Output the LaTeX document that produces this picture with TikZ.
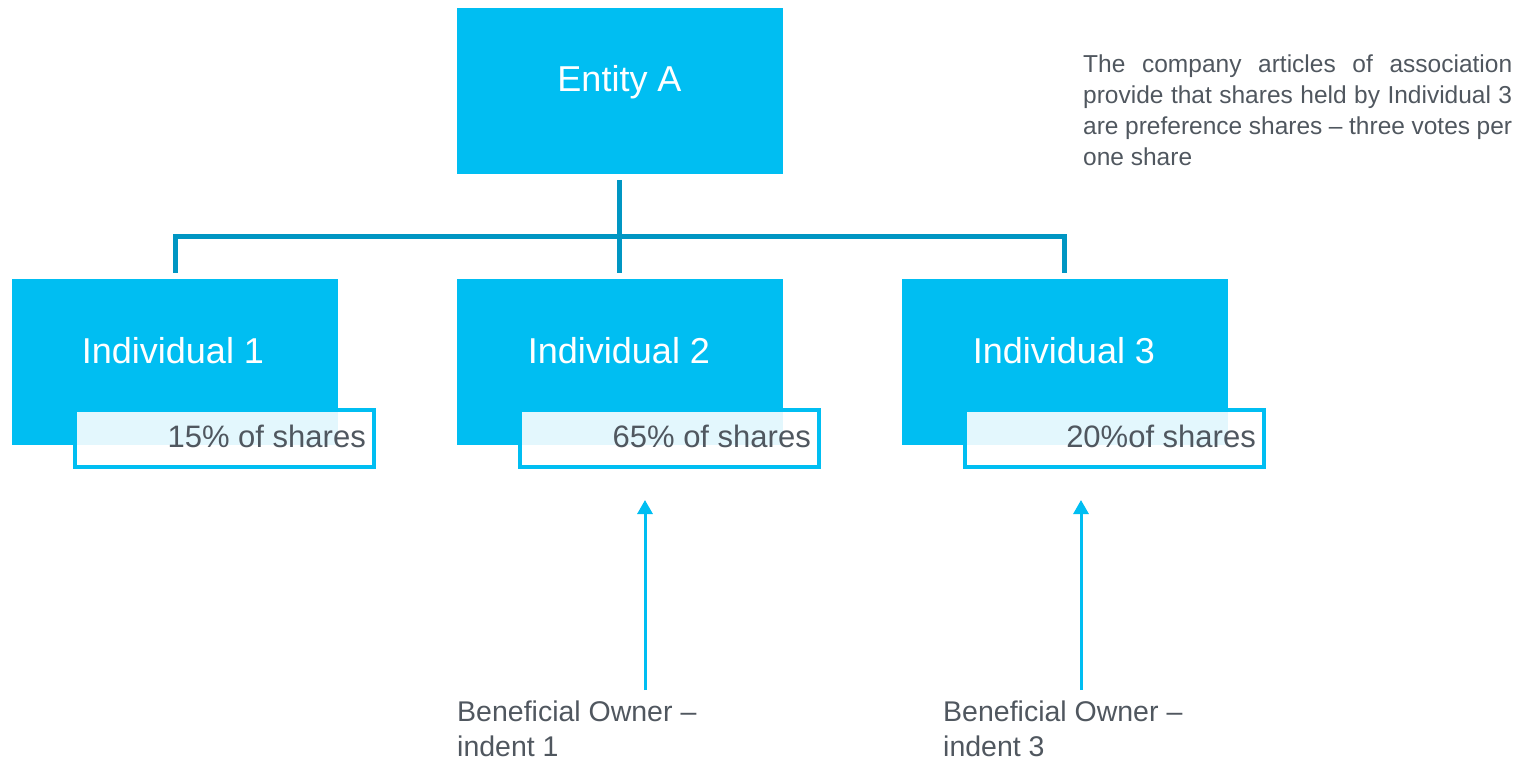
\documentclass[tikz,border=0pt]{standalone}
\usepackage{fontspec}
\setmainfont{Liberation Sans}
\usetikzlibrary{arrows.meta}

\definecolor{boxblue}{HTML}{00BEF2}
\definecolor{treeblue}{HTML}{0096C3}
\definecolor{textgray}{HTML}{50575F}

\tikzset{
    bluebox/.style={fill=boxblue, draw=none, minimum width=326pt, minimum height=166pt, inner sep=0pt},
    sharebox/.style={draw=boxblue, line width=4pt, fill=white, fill opacity=0.89, minimum width=299pt, minimum height=57pt, inner sep=0pt},
    boxtext/.style={text=white, font=\fontsize{36}{40}\selectfont, inner sep=0pt},
    sharetext/.style={text=textgray, font=\fontsize{31}{36}\selectfont, inner sep=0pt},
    tree/.style={draw=treeblue, line width=5pt},
    arr/.style={draw=boxblue, line width=3pt, -{Triangle[width=15pt,length=14pt]}},
    note/.style={text=textgray, inner sep=0pt}
}

\begin{document}
\begin{tikzpicture}[x=1pt, y=-1pt]
        \useasboundingbox (0,0) rectangle (1529,765);

        \node[bluebox] (entity) at (619.5,91) {};
        \node[boxtext, anchor=base] (entitytext) at (619.5,92) {Entity A};

        \node[bluebox] (ind1) at (175,362) {};
        \node[bluebox] (ind2) at (619.5,362) {};
        \node[bluebox] (ind3) at (1064.5,362) {};
        \node[boxtext, anchor=base] (ind1text) at (173,363) {Individual 1};
        \node[boxtext, anchor=base] (ind2text) at (619,363) {Individual 2};
        \node[boxtext, anchor=base] (ind3text) at (1064,363) {Individual 3};

        \draw[tree] ([yshift=-6pt]entity.south) -- ([yshift=6pt]ind2.north);
        \draw[tree] ([yshift=6pt]ind1.north) -- ++(0,-36) -| ([yshift=6pt]ind3.north);

        \node[sharebox] (share1) at (224.5,438.5) {};
        \node[sharebox] (share2) at (669.5,438.5) {};
        \node[sharebox] (share3) at (1114.5,438.5) {};
        \node[sharetext, anchor=base east] (share1text) at (366,447) {15\% of shares};
        \node[sharetext, anchor=base east] (share2text) at (811,447) {65\% of shares};
        \node[sharetext, anchor=base east] (share3text) at (1256,447) {20\%of shares};

        % beneficial owners
        \node[note, anchor=north west, align=left, font=\fontsize{28.5}{35}\selectfont] (owner1) at (457,701)
            {Beneficial Owner --\\indent 1};
        \node[note, anchor=north west, align=left, font=\fontsize{28.5}{35}\selectfont] (owner3) at (943,701)
            {Beneficial Owner --\\indent 3};
        \coordinate (tip1) at (645,500);
        \coordinate (tip3) at (1081,500);
        \draw[arr] ([yshift=11pt]tip1 |- owner1.north) -- (tip1);
        \draw[arr] ([yshift=11pt]tip3 |- owner3.north) -- (tip3);

        \node[note, anchor=north west, text width=429pt, align=justify, font=\fontsize{24.5}{31}\selectfont] (articles) at (1083,55)
            {The company articles of association\linebreak provide that shares held by Individual 3\linebreak are preference shares -- three votes per\linebreak one share};
    \end{tikzpicture}
\end{document}
